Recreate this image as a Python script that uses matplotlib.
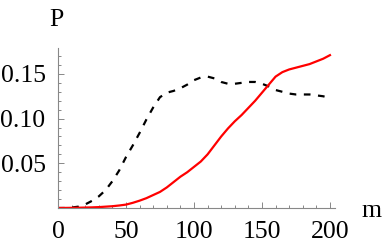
import matplotlib
matplotlib.use("Agg")
import matplotlib.pyplot as plt
from matplotlib.ticker import MultipleLocator, FixedLocator

m_values = [0, 5, 10, 15, 20, 25, 30, 35, 40, 45, 50, 55, 60, 65, 70, 75, 80, 85, 90, 95, 100,
            105, 110, 115, 120, 125, 130, 135, 140, 145, 150, 155, 160, 165, 170, 175, 180,
            185, 190, 195, 200]
p_solid = [0.0, 0.0001, 0.0002, 0.0003, 0.0005, 0.0007, 0.001, 0.0015, 0.002, 0.0028, 0.0038,
           0.0058, 0.0082, 0.011, 0.0145, 0.018, 0.023, 0.029, 0.035, 0.040, 0.046,
           0.052, 0.060, 0.070, 0.080, 0.089, 0.097, 0.104, 0.112, 0.120, 0.129,
           0.138, 0.147, 0.152, 0.155, 0.157, 0.159, 0.161, 0.164, 0.167, 0.171]
p_dashed = [0.0, 0.0, 0.0005, 0.0015, 0.004, 0.008, 0.013, 0.020, 0.030, 0.042, 0.057,
            0.070, 0.084, 0.099, 0.1125, 0.124, 0.129, 0.131, 0.134, 0.138, 0.143,
            0.146, 0.147, 0.145, 0.141, 0.139, 0.139, 0.140, 0.141, 0.141, 0.139,
            0.136, 0.132, 0.130, 0.128, 0.127, 0.127, 0.127, 0.126, 0.125, 0.123]
x_ticks = [0, 50, 100, 150, 200]
y_ticks = [0.05, 0.10, 0.15]
y_tick_labels = ["0.05", "0.10", "0.15"]

plt.rcParams['font.family'] = ['Liberation Serif', 'DejaVu Serif']

fig = plt.figure(figsize=(3.82, 2.45), dpi=100)
ax = fig.add_axes([58/382, 37/245, 277/382, 160/245])

ax.plot(m_values, p_dashed, color='black', lw=1.6, linestyle=(0, (3.0, 3.4)), dash_capstyle='butt')
ax.plot(m_values, p_solid, color='#ff0000', lw=1.6)

ax.set_xlim(0, 203.7)
ax.set_ylim(0, 0.179)

for s in ['top', 'right']:
    ax.spines[s].set_visible(False)
for s in ['left', 'bottom']:
    ax.spines[s].set_color('#888888')
    ax.spines[s].set_linewidth(0.8)

ax.xaxis.set_major_locator(FixedLocator(x_ticks))
ax.xaxis.set_minor_locator(MultipleLocator(10))
ax.yaxis.set_major_locator(FixedLocator(y_ticks))
ax.set_yticklabels(y_tick_labels)
ax.yaxis.set_minor_locator(MultipleLocator(0.01))
ax.tick_params(which='both', direction='in', color='#888888', width=0.7, labelsize=18.5)
ax.tick_params(which='major', length=4)
ax.tick_params(which='minor', length=2)
ax.tick_params(axis='x', pad=9)
ax.tick_params(axis='y', pad=9)

fig.text(56.5/382, 1 - 26/245, 'P', fontsize=18.5, ha='center', va='baseline')
fig.text(371/382, 1 - 216.5/245, 'm', fontsize=18.5, ha='center', va='baseline')

fig.savefig('out.png', dpi=100)
